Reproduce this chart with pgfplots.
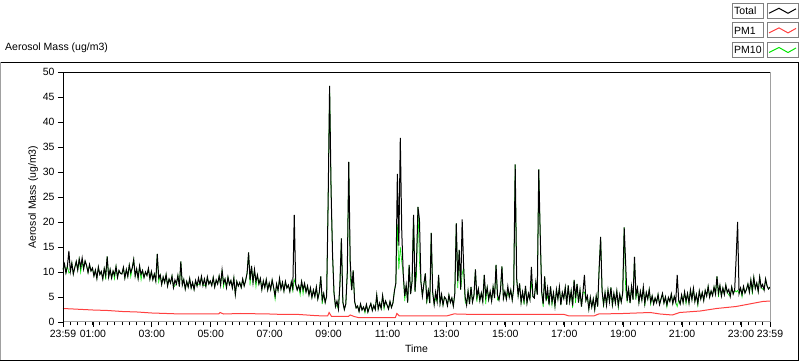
\documentclass[border=0pt]{standalone}
\usepackage{pgfplots}
\pgfplotsset{compat=1.18}
\usepackage{pgfplotstable}
\usepackage{fontspec}
\setmainfont{Liberation Sans}
\definecolor{pmred}{RGB}{255,64,64}
\definecolor{pmgreen}{RGB}{0,230,0}
\definecolor{frgray}{RGB}{160,160,160}
\definecolor{boxgray}{RGB}{128,128,128}

\pgfplotstableread[row sep=\\]{
m tot pm10\\
-1 10.5 10.5\\ 2 11.6 11.6\\ 5 9.8 9.8\\ 8 11.2 11.2\\ 11 14.2 9.8\\ 14 10.1 10.1\\ 17 11.8 11.8\\ 20 9.6 9.6\\ 23 10.9 10.9\\ 26 12.1 12.1\\ 29 10.4 10.4\\ 32 12.6 12.6\\ 35 11.0 9.9\\ 38 12.8 12.0\\ 41 10.6 10.6\\ 44 12.2 12.2\\ 47 11.3 11.3\\ 50 9.9 9.9\\ 53 11.5 11.5\\ 56 10.2 10.2\\
59 10.8 10.8\\ 62 9.2 9.2\\ 65 10.4 10.4\\ 68 8.7 8.7\\ 71 11.0 11.0\\ 74 9.5 9.5\\ 77 10.1 10.1\\ 80 8.6 8.6\\ 83 10.7 10.7\\ 86 9.3 8.5\\ 89 13.1 13.1\\ 92 9.0 9.0\\ 95 10.5 10.5\\ 98 8.8 8.8\\ 101 10.2 10.2\\ 104 9.4 8.6\\ 107 11.1 11.1\\ 110 8.9 8.9\\ 113 10.3 10.3\\ 116 9.7 9.7\\
119 9.6 9.6\\ 122 10.9 10.9\\ 125 8.8 8.8\\ 128 10.5 10.5\\ 131 9.1 9.1\\ 134 11.4 11.4\\ 137 9.9 9.0\\ 140 10.8 10.8\\ 143 12.5 12.5\\ 146 9.2 9.2\\ 149 10.6 10.6\\ 152 8.7 8.7\\ 155 11.2 11.2\\ 158 9.5 8.4\\ 161 10.3 10.3\\ 164 8.9 8.9\\ 167 10.0 10.0\\ 170 9.3 9.3\\ 173 10.7 10.7\\ 176 8.6 8.6\\
179 10.1 10.1\\ 182 8.5 8.5\\ 185 9.6 9.6\\ 188 8.2 8.2\\ 191 13.6 13.6\\ 194 8.8 8.0\\ 197 9.4 9.4\\ 200 7.5 7.5\\ 203 9.0 9.0\\ 206 7.9 7.9\\ 209 9.5 9.5\\ 212 7.2 7.2\\ 215 8.6 8.6\\ 218 7.8 7.8\\ 221 9.2 9.2\\ 224 6.9 6.9\\ 227 8.4 7.3\\ 230 7.6 7.6\\ 233 9.3 9.3\\ 236 7.1 7.1\\
239 12.1 12.1\\ 242 7.4 7.4\\ 245 8.5 8.5\\ 248 6.6 6.6\\ 251 8.1 8.1\\ 254 7.0 7.0\\ 257 8.7 8.7\\ 260 6.8 6.8\\ 263 7.9 7.9\\ 266 6.5 6.5\\ 269 8.3 8.3\\ 272 7.2 7.2\\ 275 8.8 7.6\\ 278 7.5 7.5\\ 281 9.1 9.1\\ 284 7.3 7.3\\ 287 8.6 7.4\\ 290 7.1 7.1\\ 293 9.0 9.0\\ 296 7.6 7.6\\
299 8.2 8.2\\ 302 7.3 7.3\\ 305 8.9 8.9\\ 308 7.0 7.0\\ 311 8.4 8.4\\ 314 7.6 7.6\\ 317 9.2 9.2\\ 320 7.4 7.4\\ 323 10.4 10.4\\ 326 7.8 7.0\\ 329 8.6 8.6\\ 332 6.9 6.9\\ 335 9.0 9.0\\ 338 7.5 7.5\\ 341 8.3 8.3\\ 344 6.8 6.8\\ 347 8.8 8.8\\ 350 5.5 5.5\\ 353 8.1 8.1\\ 356 7.2 7.2\\
359 7.9 7.9\\ 362 6.9 6.9\\ 365 8.6 8.6\\ 368 7.2 7.2\\ 371 8.3 8.3\\ 374 9.8 9.8\\ 377 13.9 13.9\\ 380 8.4 7.3\\ 383 11.2 11.2\\ 386 7.9 7.9\\ 389 10.5 10.5\\ 392 8.1 7.0\\ 395 9.4 9.4\\ 398 7.6 7.6\\ 401 8.7 8.7\\ 404 6.5 6.5\\ 407 8.2 8.2\\ 410 6.9 6.9\\ 413 8.5 8.5\\ 416 6.4 6.4\\
419 7.8 7.8\\ 422 6.5 6.5\\ 425 8.4 8.4\\ 428 6.9 6.9\\ 431 5.2 4.5\\ 434 7.6 7.6\\ 437 6.3 6.3\\ 440 8.7 8.7\\ 443 6.6 6.6\\ 446 7.9 7.9\\ 449 6.2 6.2\\ 452 8.1 8.1\\ 455 6.8 6.8\\ 458 7.4 7.4\\ 461 6.1 6.1\\ 464 8.0 8.0\\ 467 6.7 6.2\\ 470 21.4 8.5\\ 473 7.5 7.5\\ 476 6.4 6.4\\
479 7.3 7.3\\ 482 6.2 5.4\\ 485 8.1 8.1\\ 488 6.5 5.6\\ 491 7.7 7.7\\ 494 6.0 6.0\\ 497 7.2 7.2\\ 500 5.4 5.4\\ 503 6.8 6.8\\ 506 4.9 4.9\\ 509 6.4 6.4\\ 512 5.1 5.1\\ 515 7.0 7.0\\ 518 4.6 4.6\\ 521 5.9 5.9\\ 524 9.1 9.1\\ 527 4.4 3.6\\ 530 5.7 5.7\\ 533 3.9 3.9\\ 536 5.2 5.2\\
539 24.0 24.0\\ 542 47.2 47.2\\ 545 26.4 26.4\\ 548 13.5 13.5\\ 551 5.8 5.8\\ 554 3.1 3.1\\ 557 4.2 3.3\\ 560 2.6 2.6\\ 563 7.5 7.5\\ 566 16.7 16.7\\ 569 4.0 4.0\\ 572 2.5 2.5\\ 575 3.6 3.6\\ 578 9.8 9.8\\ 581 32.0 32.0\\ 584 12.2 9.0\\ 587 6.4 6.4\\ 590 10.3 10.3\\ 593 4.1 4.1\\ 596 2.8 2.8\\
599 3.2 3.2\\ 602 2.1 2.1\\ 605 3.6 3.6\\ 608 2.4 2.4\\ 611 3.0 3.0\\ 614 2.2 1.8\\ 617 3.5 3.5\\ 620 2.0 2.0\\ 623 2.9 2.9\\ 626 3.7 3.7\\ 629 2.3 2.3\\ 632 3.3 3.3\\ 635 2.5 2.5\\ 638 5.4 5.4\\ 641 2.6 2.6\\ 644 3.8 3.8\\ 647 2.7 2.7\\ 650 5.3 5.3\\ 653 3.1 2.6\\ 656 4.2 4.2\\
659 3.4 3.4\\ 662 2.6 2.6\\ 665 4.1 4.1\\ 668 2.9 2.9\\ 671 3.8 3.8\\ 674 6.2 6.2\\ 677 7.8 7.8\\ 680 29.6 19.5\\ 683 15.3 10.5\\ 686 36.8 15.0\\ 689 18.0 12.0\\ 692 9.6 9.6\\ 695 5.2 4.2\\ 698 7.4 7.4\\ 701 3.9 3.9\\ 704 11.4 11.4\\ 707 5.6 5.6\\ 710 8.2 8.2\\ 713 21.4 21.4\\ 716 6.1 6.1\\
719 12.0 9.5\\ 722 23.0 23.0\\ 725 20.5 12.0\\ 728 8.1 8.1\\ 731 5.2 5.2\\ 734 7.6 7.6\\ 737 9.7 9.7\\ 740 4.4 3.7\\ 743 6.3 6.3\\ 746 3.8 3.8\\ 749 17.8 17.8\\ 752 5.9 5.9\\ 755 3.5 3.5\\ 758 6.0 4.8\\ 761 4.1 4.1\\ 764 9.4 9.4\\ 767 3.7 3.7\\ 770 5.5 5.5\\ 773 3.4 3.4\\ 776 5.0 5.0\\
779 4.6 4.6\\ 782 3.3 3.3\\ 785 5.4 5.4\\ 788 3.9 3.9\\ 791 4.8 4.8\\ 794 3.2 3.2\\ 797 5.7 5.7\\ 800 19.7 19.7\\ 803 8.2 6.8\\ 806 14.4 14.4\\ 809 6.5 6.5\\ 812 20.5 9.5\\ 815 11.0 11.0\\ 818 5.1 4.0\\ 821 3.4 3.4\\ 824 6.2 6.2\\ 827 3.6 3.6\\ 830 7.0 7.0\\ 833 4.0 4.0\\ 836 5.3 5.3\\
839 10.5 10.5\\ 842 5.0 4.0\\ 845 6.6 6.6\\ 848 4.3 4.3\\ 851 5.8 5.8\\ 854 4.1 4.1\\ 857 9.4 9.4\\ 860 5.2 3.6\\ 863 6.9 6.9\\ 866 4.5 4.5\\ 869 6.1 6.1\\ 872 4.2 4.2\\ 875 7.0 7.0\\ 878 4.8 4.8\\ 881 11.4 11.4\\ 884 5.4 4.4\\ 887 4.4 4.4\\ 890 6.3 6.3\\ 893 11.1 11.1\\ 896 4.7 4.7\\
899 6.1 6.1\\ 902 4.6 4.6\\ 905 7.1 6.0\\ 908 5.0 5.0\\ 911 6.4 6.4\\ 914 4.4 4.4\\ 917 6.8 6.8\\ 920 31.5 31.5\\ 923 8.7 8.7\\ 926 5.3 5.3\\ 929 7.7 7.7\\ 932 3.9 3.9\\ 935 6.0 6.0\\ 938 4.2 3.5\\ 941 7.2 7.2\\ 944 3.8 3.8\\ 947 5.7 5.7\\ 950 4.5 4.5\\ 953 11.0 8.0\\ 956 5.1 5.1\\
959 4.8 4.8\\ 962 7.9 7.9\\ 965 5.5 5.5\\ 968 30.5 30.5\\ 971 17.4 17.4\\ 974 6.0 6.0\\ 977 3.6 3.0\\ 980 9.1 9.1\\ 983 4.3 4.3\\ 986 6.7 5.2\\ 989 3.5 3.5\\ 992 7.1 7.1\\ 995 4.0 3.4\\ 998 5.8 5.8\\ 1001 3.2 3.2\\ 1004 6.5 6.5\\ 1007 4.6 4.6\\ 1010 7.0 7.0\\ 1013 3.4 3.4\\ 1016 5.9 5.9\\
1019 4.7 4.7\\ 1022 6.9 6.9\\ 1025 3.5 3.5\\ 1028 7.3 7.3\\ 1031 4.1 4.1\\ 1034 6.2 6.2\\ 1037 3.3 2.8\\ 1040 8.4 8.4\\ 1043 4.8 3.8\\ 1046 7.6 7.6\\ 1049 3.9 3.9\\ 1052 6.4 6.4\\ 1055 3.1 3.1\\ 1058 5.9 5.9\\ 1061 9.4 6.0\\ 1064 4.3 4.3\\ 1067 5.2 5.2\\ 1070 2.6 2.6\\ 1073 4.9 4.9\\ 1076 3.0 3.0\\
1079 4.6 4.6\\ 1082 2.5 2.5\\ 1085 5.2 5.2\\ 1088 3.1 3.1\\ 1091 10.7 10.7\\ 1094 17.0 17.0\\ 1097 6.2 6.2\\ 1100 3.6 3.0\\ 1103 5.9 5.9\\ 1106 3.4 3.4\\ 1109 6.4 6.4\\ 1112 4.1 4.1\\ 1115 6.9 6.9\\ 1118 3.5 3.0\\ 1121 5.7 5.7\\ 1124 3.8 3.8\\ 1127 6.2 6.2\\ 1130 3.3 2.9\\ 1133 5.5 5.5\\ 1136 4.0 4.0\\
1139 5.8 5.8\\ 1142 18.9 18.9\\ 1145 11.7 6.5\\ 1148 4.2 4.2\\ 1151 6.6 6.6\\ 1154 3.8 3.8\\ 1157 7.1 7.1\\ 1160 4.5 4.5\\ 1163 13.0 13.0\\ 1166 5.3 4.5\\ 1169 6.8 6.8\\ 1172 3.9 3.9\\ 1175 6.1 6.1\\ 1178 4.4 4.4\\ 1181 7.0 7.0\\ 1184 3.7 3.2\\ 1187 5.9 5.9\\ 1190 4.6 4.6\\ 1193 6.5 6.5\\ 1196 4.0 3.5\\
1199 5.2 5.2\\ 1202 3.6 3.6\\ 1205 4.8 4.8\\ 1208 3.9 3.9\\ 1211 5.5 5.5\\ 1214 3.5 3.5\\ 1217 4.6 4.6\\ 1220 5.7 5.7\\ 1223 3.8 3.8\\ 1226 5.0 5.0\\ 1229 3.4 3.0\\ 1232 4.9 4.9\\ 1235 4.1 4.1\\ 1238 5.6 5.6\\ 1241 3.7 3.7\\ 1244 5.1 5.1\\ 1247 4.0 4.0\\ 1250 9.4 3.1\\ 1253 4.4 4.4\\ 1256 3.6 3.6\\
1259 5.4 5.4\\ 1262 3.9 3.9\\ 1265 6.0 6.0\\ 1268 4.2 3.6\\ 1271 5.7 5.7\\ 1274 3.8 3.8\\ 1277 6.4 6.4\\ 1280 4.5 4.5\\ 1283 6.7 6.7\\ 1286 4.1 4.1\\ 1289 5.5 5.5\\ 1292 3.7 3.3\\ 1295 6.2 6.2\\ 1298 4.6 4.6\\ 1301 5.9 5.9\\ 1304 4.3 4.3\\ 1307 6.3 6.3\\ 1310 5.2 5.2\\ 1313 7.1 7.1\\ 1316 5.0 5.0\\
1319 6.2 6.2\\ 1322 5.3 5.3\\ 1325 7.0 7.0\\ 1328 5.6 5.6\\ 1331 9.1 9.1\\ 1334 5.8 5.0\\ 1337 7.3 7.3\\ 1340 5.2 5.2\\ 1343 6.8 6.8\\ 1346 5.5 5.5\\ 1349 7.4 7.4\\ 1352 5.9 5.9\\ 1355 6.5 5.4\\ 1358 5.1 5.1\\ 1361 7.0 7.0\\ 1364 5.6 5.6\\ 1367 6.4 6.4\\ 1370 12.7 6.0\\ 1373 20.0 6.3\\ 1376 5.7 5.7\\
1379 6.8 6.8\\ 1382 5.5 5.0\\ 1385 7.1 7.1\\ 1388 5.8 5.8\\ 1391 6.5 6.5\\ 1394 7.6 7.6\\ 1397 6.0 6.0\\ 1400 8.4 8.4\\ 1403 6.3 5.5\\ 1406 8.9 8.9\\ 1409 6.7 6.7\\ 1412 7.8 7.8\\ 1415 6.1 6.1\\ 1418 9.0 9.0\\ 1421 6.9 6.9\\ 1424 7.5 6.6\\ 1427 6.4 6.4\\ 1430 8.6 8.6\\ 1433 7.2 7.2\\ 1436 6.6 6.6\\
1439 7.0 7.0\\
}\tdata

\pgfplotstableread[row sep=\\]{
m pm1\\
-1 2.7\\ 20 2.6\\ 40 2.5\\ 60 2.4\\ 90 2.3\\ 120 2.1\\ 150 2.0\\ 180 1.8\\ 210 1.7\\ 240 1.6\\ 300 1.6\\ 316 1.6\\ 319 1.9\\ 326 1.6\\ 360 1.7\\ 420 1.6\\ 450 1.5\\ 480 1.5\\ 510 1.3\\ 530 1.2\\ 538 1.2\\ 541 1.9\\ 546 1.1\\ 580 1.1\\ 584 1.4\\ 592 1.1\\ 600 0.9\\ 640 0.85\\ 676 0.9\\ 679 1.7\\ 684 1.2\\ 720 1.2\\ 780 1.2\\ 795 1.6\\ 800 1.6\\ 840 1.5\\ 900 1.5\\ 960 1.5\\ 1020 1.5\\ 1030 1.2\\ 1080 1.2\\ 1090 1.6\\ 1140 1.7\\ 1195 1.9\\ 1215 1.6\\ 1240 1.4\\ 1255 1.9\\ 1297 2.2\\ 1330 2.7\\ 1370 3.1\\ 1397 3.6\\ 1424 4.1\\ 1439 4.2\\
}\pmone

\begin{document}
\begin{tikzpicture}[font=\fontsize{10.5bp}{12bp}\selectfont]
\path[use as bounding box] (0bp,0bp) rectangle (800bp,361bp);
% outer panel frame
\draw[black,line width=1bp] (0bp,298.5bp) -- (799bp,298.5bp);
\draw[frgray,line width=1bp] (0.5bp,298.5bp) -- (0.5bp,0.5bp);
\draw[black,line width=1bp] (0bp,0.5bp) -- (799bp,0.5bp);
\draw[black,line width=1bp] (798.5bp,0.5bp) -- (798.5bp,298.5bp);
% plot name
\node[anchor=west,inner sep=0pt] at (5bp,313bp) {Aerosol Mass (ug/m3)};
% legend boxes
\foreach \r/\lab/\col in {0/Total/black,1/PM1/pmred,2/PM10/pmgreen}{
  \pgfmathsetmacro{\yt}{357.7-19.6*\r}
  \draw[boxgray,line width=1bp] (732.5bp,\yt bp) rectangle (763.5bp,\yt bp-15bp);
  \node[anchor=west,inner sep=0pt] at (734bp,\yt bp-7.5bp) {\lab};
  \draw[boxgray,line width=1bp] (767.5bp,\yt bp) rectangle (798.5bp,\yt bp-15bp);
  \draw[\col,line width=1bp] (769bp,\yt bp-10bp) -- (779bp,\yt bp-5bp) -- (788bp,\yt bp-10bp) -- (796bp,\yt bp-5.5bp);
}
\begin{axis}[
  at={(63bp,39bp)}, anchor=south west,
  scale only axis, width=707bp, height=250bp,
  xmin=-1, xmax=1439, ymin=0, ymax=50,
  xtick={-1,60,180,300,420,540,660,780,900,1020,1140,1260,1380,1439},
  xticklabels={23:59,01:00,03:00,05:00,07:00,09:00,11:00,13:00,15:00,17:00,19:00,21:00,23:00,23:59},
  minor xtick={14,29,...,1424},
  ytick={0,5,...,50},
  tick pos=left, tick align=outside,
  major tick length=5bp, minor tick length=3.5bp,
  every tick/.style={black,line width=0.8bp},
  axis line style={draw=none},
  clip=false,
  scaled ticks=false,
  /pgf/number format/assume math mode=true,
  tick label style={font=\fontsize{10.5bp}{12bp}\selectfont},
  xlabel={Time}, ylabel={Aerosol Mass (ug/m3)},
  label style={font=\fontsize{10.5bp}{12bp}\selectfont},
  ylabel shift=-2bp,
]
\addplot[pmgreen, line width=0.6bp] table[x=m, y=pm10] {\tdata};
\addplot[black, line width=1bp] table[x=m, y=tot] {\tdata};
\addplot[pmred, line width=1bp] table[x=m, y=pm1] {\pmone};
\draw[frgray,line width=1bp] (rel axis cs:1,1) -- (rel axis cs:1,0) -- (rel axis cs:0,0);
\draw[black,line width=1bp] (rel axis cs:0,0) -- (rel axis cs:0,1) -- (rel axis cs:1,1);
\end{axis}
\end{tikzpicture}
\end{document}
